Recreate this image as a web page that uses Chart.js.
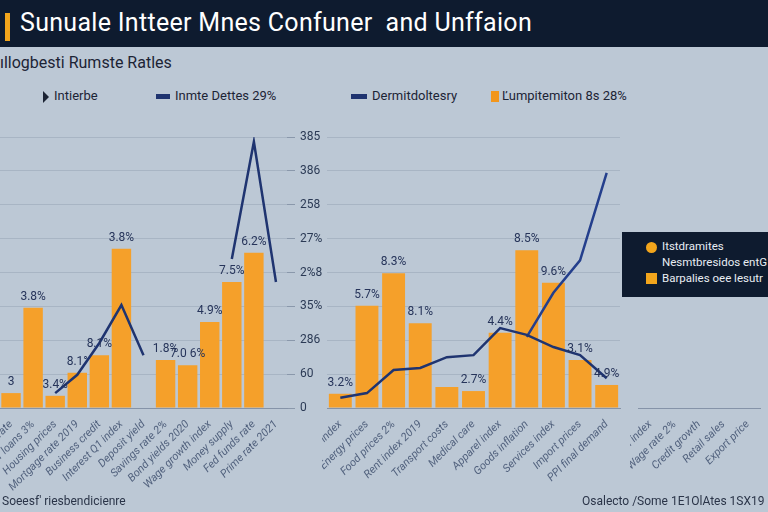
<!DOCTYPE html>
<html><head><meta charset="utf-8">
<script src="https://cdn.jsdelivr.net/npm/chart.js@4"></script>
<style>
body{margin:0;width:768px;height:512px;overflow:hidden;background:#bcc8d5;font-family:Roboto,"Liberation Sans",sans-serif;position:relative}
#titlebar{position:absolute;left:0;top:0;width:768px;height:47px;background:#0e1b2f}
#accent{position:absolute;left:5px;top:13px;width:5px;height:28px;background:#f2a51c}
#title{position:absolute;left:20px;top:8px;color:#fff;font-size:25px;white-space:nowrap;letter-spacing:0.3px}
#subtitle{position:absolute;left:0;top:53px;color:#1c2435;font-size:16px;white-space:nowrap}
.lg{position:absolute;top:88px;font-size:13px;color:#1c2435;white-space:nowrap}
.sw{display:inline-block;vertical-align:middle;margin-right:5px}
#box{position:absolute;left:622px;top:232px;width:146px;height:65px;background:#0e1b2f;color:#e8edf3;font-size:11.5px}
#box div{position:absolute;left:40px;white-space:nowrap}
.dot{position:absolute;left:24px;width:11px;height:11px;background:#f2a51c}
.foot{position:absolute;top:494px;font-size:12px;color:#2a3448;white-space:nowrap}
canvas{position:absolute}
</style></head>
<body>
<div id="titlebar"><div id="accent"></div><div id="title">Sunuale Intteer Mnes Confuner &nbsp;and Unffaion</div></div>
<div id="subtitle">ıllogbesti Rumste Ratles</div>
<div class="lg" style="left:43px"><span class="sw" style="width:0;height:0;border-left:6px solid #1c2435;border-top:6px solid transparent;border-bottom:6px solid transparent"></span>Intierbe</div>
<div class="lg" style="left:156px"><span class="sw" style="width:14px;height:5px;background:#1f3470"></span>Inmte Dettes 29%</div>
<div class="lg" style="left:351px"><span class="sw" style="width:16px;height:5px;background:#1f3470"></span>Dermitdoltesry</div>
<div class="lg" style="left:491px"><span class="sw" style="width:8px;height:11px;background:#f2961c;margin-right:3px"></span>Ľumpitemiton 8s 28%</div>
<canvas id="c1" width="327" height="385" style="left:0;top:120px"></canvas>
<canvas id="c2" width="303" height="385" style="left:322px;top:120px"></canvas>
<canvas id="c3" width="138" height="385" style="left:630px;top:120px"></canvas>
<div id="box">
<span class="dot" style="top:10px;border-radius:50%"></span><div style="top:7px">Itstdramites</div>
<div style="top:23px">Nesmtbresidos entG</div>
<span class="dot" style="top:41px"></span><div style="top:39px">Barpalies oee lesutr</div>
</div>
<div class="foot" style="left:2px">Soeesf' riesbendicienre</div>
<div class="foot" style="left:582px">Osalecto /Some 1E1OlAtes 1SX19</div>
<script>
// ---- data ----
const leftCategories = ["Imports data rate","Consumer loans 3%","Housing prices","Mortgage rate 2019","Business credit","Interest Q1 index","Deposit yield","Savings rate 2%","Bond yields 2020","Wage growth index","Money supply","Fed funds rate","Prime rate 2021"];
const leftBars = [2.2, 14.8, 1.8, 5.2, 7.8, 23.5, null, 7.1, 6.3, 12.7, 18.6, 22.9, null];
const leftLine = [null, null, 2.2, 4.9, 9.6, 15.2, 7.8, null, null, null, 22, 39.3, 18.6];
const leftBarLabels = ["3", "3.8%", "3.4%", "8.1°", "8.1%", "3.8%", "", "1.8%", "7.0 6%", "4.9%", "7.5%", "6.2%", ""];

const rightCategories = ["Core CPI index","Energy prices","Food prices 2%","Rent index 2019","Transport costs","Medical care","Apparel index","Goods inflation","Services index","Import prices","PPI final demand"];
const rightBars = [2.1, 15.1, 19.9, 12.5, 3.1, 2.5, 11.1, 23.3, 18.5, 7.1, 3.4];
const rightLineA = [1.5, 2.2, 5.6, 5.9, 7.5, 7.8, 11.8, 10.8, 9.0, 7.8, 4.4];
const rightLineB = [null, null, null, null, null, null, null, 10.5, 17, 21.8, 34.7];
const rightBarLabels = ["3.2%", "5.7%", "8.3%", "8.1%", "", "2.7%", "4.4%", "8.5%", "9.6%", "3.1%", "4.9%"];

const extraCategories = ["Oil index","Wage rate 2%","Credit growth","Retail sales","Export price"];
const yTickLabels = ["0", "60", "286", "35%", "2%8", "27%", "258", "386", "385"];

// ---- styles ----
const ORANGE = "#f5a02a", NAVY = "#1f3470", GRID = "#a8b5c4";
const labelPlugin = {
  id: "valLabels",
  afterDatasetsDraw(chart) {
    const ctx = chart.ctx;
    chart.data.datasets.forEach((ds, i) => {
      if (!ds.valueLabels) return;
      const meta = chart.getDatasetMeta(i);
      meta.data.forEach((el, j) => {
        const t = ds.valueLabels[j];
        if (!t || ds.data[j] == null) return;
        ctx.save();
        ctx.font = "12px Roboto, sans-serif";
        ctx.fillStyle = "#26345a";
        ctx.textAlign = "center";
        ctx.textBaseline = "bottom";
        ctx.fillText(t, el.x, el.y - 5);
        ctx.restore();
      });
    });
  }
};
function xAxis(height) {
  return {
    grid: { display: false },
    border: { display: true, color: "#8593a8" },
    ticks: { autoSkip: false, minRotation: 45, maxRotation: 45, color: "#52627e", padding: 2,
      font: { size: 11, style: "italic", family: "Roboto" } },
    afterFit(s) { s.height = height; s.paddingLeft = 0; s.paddingRight = 0; }
  };
}
const base = {
  responsive: false, animation: false,
  plugins: { legend: { display: false }, tooltip: { enabled: false } }
};

new Chart(document.getElementById("c1"), {
  type: "bar",
  data: { labels: leftCategories, datasets: [
    { type: "line", data: leftLine, borderColor: NAVY, borderWidth: 2.5, pointRadius: 0, spanGaps: false, order: 0 },
    { data: leftBars, backgroundColor: ORANGE, barPercentage: 0.88, categoryPercentage: 1, order: 1, valueLabels: leftBarLabels }
  ]},
  options: Object.assign({}, base, {
    layout: { padding: { top: 17, left: 0, right: 0, bottom: 0 } },
    scales: {
      x: xAxis(97),
      y: { position: "right", min: 0, max: 40,
        grid: { color: GRID, tickLength: 8, tickColor: "#8a98ab" },
        border: { display: false },
        ticks: { stepSize: 5, padding: 5, color: "#2b3a55", font: { size: 12, family: "Roboto" },
          callback: (v, i) => yTickLabels[i] },
        afterFit(s) { s.width = 40; } }
    }
  }),
  plugins: [labelPlugin]
});

new Chart(document.getElementById("c2"), {
  type: "bar",
  data: { labels: rightCategories, datasets: [
    { type: "line", data: rightLineA, borderColor: NAVY, borderWidth: 2.5, pointRadius: 0, order: 0 },
    { type: "line", data: rightLineB, borderColor: "#243f8c", borderWidth: 2.5, pointRadius: 0, order: 0 },
    { data: rightBars, backgroundColor: ORANGE, barPercentage: 0.86, categoryPercentage: 1, order: 1, valueLabels: rightBarLabels }
  ]},
  options: Object.assign({}, base, {
    layout: { padding: { top: 17, left: 5, right: 5, bottom: 0 } },
    scales: {
      x: xAxis(97),
      y: { min: 0, max: 40, grid: { color: GRID, drawTicks: false }, border: { display: false },
        ticks: { display: false, stepSize: 5 }, afterFit(s) { s.width = 0; } }
    }
  }),
  plugins: [labelPlugin]
});

new Chart(document.getElementById("c3"), {
  type: "bar",
  data: { labels: extraCategories, datasets: [ { data: extraCategories.map(() => null) } ] },
  options: Object.assign({}, base, {
    layout: { padding: { top: 17, left: 8, right: 8, bottom: 0 } },
    scales: {
      x: xAxis(97),
      y: { display: false, min: 0, max: 40 }
    }
  })
});
</script>
</body></html>
